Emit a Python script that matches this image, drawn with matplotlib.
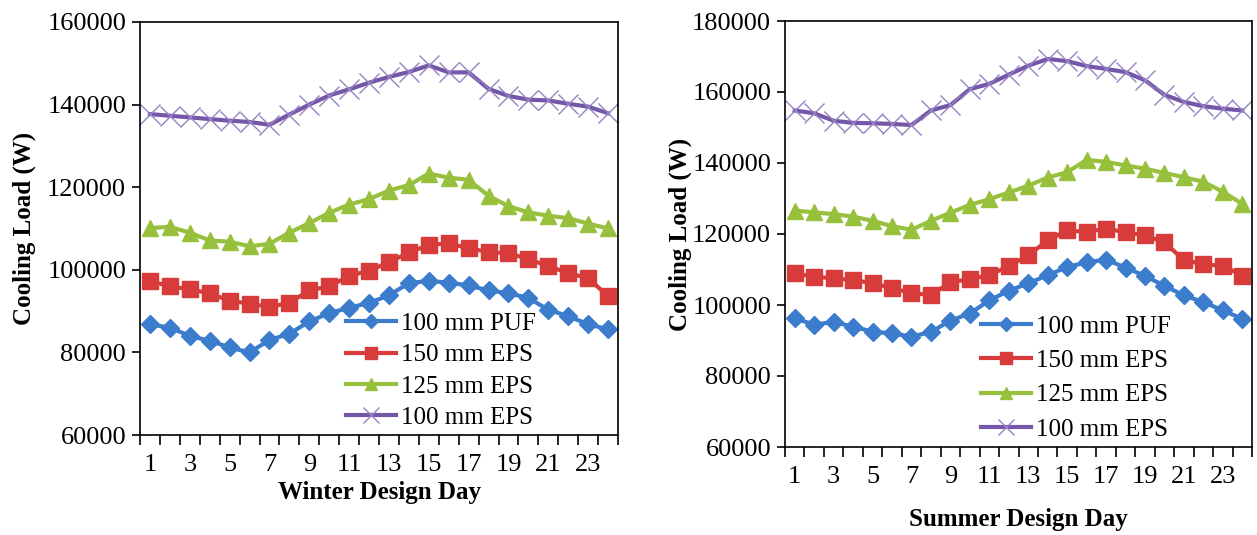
import numpy as np
import matplotlib
matplotlib.use("Agg")
import matplotlib.pyplot as plt

plt.rcParams["font.family"] = ["Liberation Serif", "DejaVu Serif"]

# Hours of the design day
hours = np.arange(1, 25)
tick_labels = [str(h) for h in range(1, 24, 2)]

series = ["100 mm PUF", "150 mm EPS", "125 mm EPS", "100 mm EPS"]

# Winter design day cooling load (W)
winter_puf100 = [86800, 86000, 84000, 82800, 81200, 80000, 83000, 84500, 87500, 89500,
                 90800, 92000, 93800, 96800, 97300, 96900, 96200, 95000, 94300, 93200,
                 90300, 88800, 86800, 85600]
winter_eps150 = [97300, 96000, 95300, 94300, 92500, 91800, 91000, 92000, 95000, 96000,
                 98500, 99800, 101800, 104200, 106000, 106400, 105200, 104300, 104000, 102600,
                 100900, 99200, 98000, 93600]
winter_eps125 = [110100, 110400, 109000, 107100, 106800, 105700, 106300, 109000, 111300, 113800,
                 115800, 117100, 119200, 120500, 123300, 122300, 121800, 117900, 115400, 113900,
                 113100, 112500, 111200, 110000]
winter_eps100 = [137700, 137300, 136900, 136500, 136100, 135800, 135100, 137600, 140000, 142200,
                 143700, 145300, 146700, 147900, 149500, 147800, 147800, 143800, 142100, 141200,
                 141000, 140200, 139500, 137900]

# Summer design day cooling load (W)
summer_puf100 = [96200, 94500, 95200, 93900, 92500, 92000, 91100, 92400, 95600, 97600,
                 101300, 104000, 106100, 108400, 110700, 112000, 112800, 110500, 108200, 105400,
                 102700, 100800, 98500, 96100]
summer_eps150 = [108900, 108000, 107500, 107000, 106200, 104700, 103400, 102800, 106400, 107300,
                 108400, 111000, 114000, 118200, 121000, 120600, 121500, 120500, 119600, 117700,
                 112600, 111500, 111000, 108300]
summer_eps125 = [126600, 126100, 125600, 124900, 123700, 122200, 121200, 123700, 126000, 128200,
                 129800, 131700, 133600, 135900, 137400, 140900, 140300, 139300, 138400, 137200,
                 136000, 134700, 131900, 128500]
summer_eps100 = [154800, 154000, 151900, 151300, 151200, 151000, 150700, 154800, 156300, 160800,
                 162300, 164900, 167400, 169300, 168700, 167300, 166500, 165600, 163300, 159200,
                 157200, 156000, 155300, 154800]

colors = ["#3b7dcc", "#d83c3a", "#97c03c", "#7457a8"]
styles = [
    dict(marker="D", markersize=9.5),
    dict(marker="s", markersize=11.5),
    dict(marker="^", markersize=11.5),
    dict(marker="x", markersize=15, markeredgewidth=1.0, markeredgecolor="#9383c2"),
]

fig = plt.figure(figsize=(12.57, 5.35), dpi=100)
ax1 = fig.add_axes([140 / 1257, 1 - 435 / 535, 478 / 1257, 413 / 535])
ax2 = fig.add_axes([785 / 1257, 1 - 447 / 535, 467 / 1257, 426 / 535])

panels = [
    (ax1, [winter_puf100, winter_eps150, winter_eps125, winter_eps100],
     "Winter Design Day", (60000, 160000), 0.43, 0.35, 3, 8),
    (ax2, [summer_puf100, summer_eps150, summer_eps125, summer_eps100],
     "Summer Design Day", (60000, 180000), 0.42, 0.47, 14, 0),
]

for ax, data, xlabel, ylim, legx, lspace, xpad, ypad in panels:
    for vals, name, c, st in zip(data, series, colors, styles):
        ax.plot(hours, vals, color=c, linewidth=3, label=name, **st)
    ax.set_xlim(0.5, 24.5)
    ax.set_ylim(*ylim)
    ax.set_yticks(np.arange(ylim[0], ylim[1] + 1, 20000))
    ax.set_xticks(range(1, 25, 2))
    ax.set_xticklabels(tick_labels)
    ax.set_xticks(np.arange(0.5, 24.6, 1), minor=True)
    ax.tick_params(axis="x", which="major", length=0, pad=14, labelsize=19)
    ax.tick_params(axis="x", which="minor", length=7, width=1.2, direction="out")
    ax.tick_params(axis="y", length=6, width=1.2, direction="out", pad=4, labelsize=19)
    for sp in ax.spines.values():
        sp.set_linewidth(1.2)
    ax.set_xlabel(xlabel, fontsize=18, fontweight="bold", labelpad=xpad)
    ax.set_ylabel("Cooling Load (W)", fontsize=18, fontweight="bold", labelpad=ypad)
    ax.legend(loc="lower left", bbox_to_anchor=(legx, 0.015), frameon=False,
              fontsize=18, handlelength=2.0, handletextpad=0.2, labelspacing=lspace,
              borderaxespad=0, borderpad=0, markerscale=0.8)

fig.savefig("out.png", dpi=100)
